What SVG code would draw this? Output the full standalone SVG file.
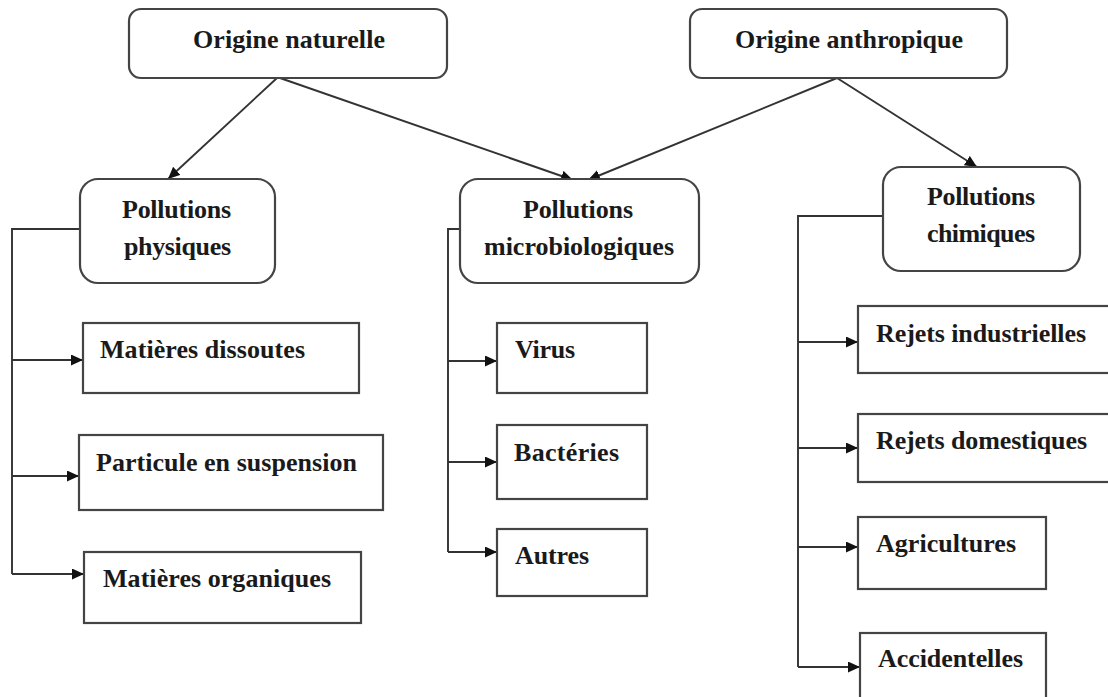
<svg xmlns="http://www.w3.org/2000/svg" width="1108" height="697" viewBox="0 0 1108 697">
<style>
.t{font-family:"Liberation Serif","Times New Roman",serif;font-weight:bold;font-size:26px;fill:#1a1a1a}
.box{fill:#fff;stroke:#444;stroke-width:2.2}
.ln{fill:none;stroke:#333;stroke-width:1.9}
</style>
<defs>
<marker id="ah" markerUnits="userSpaceOnUse" markerWidth="13" markerHeight="12" refX="12" refY="5.5" orient="auto">
<path d="M0,0 L12,5.5 L0,11 z" fill="#111"/>
</marker>
</defs>
<rect width="1108" height="697" fill="#fff"/>
<g id="connectors">
<line class="ln" x1="277" y1="78" x2="168" y2="179" marker-end="url(#ah)"/>
<line class="ln" x1="280" y1="78" x2="573" y2="180" marker-end="url(#ah)"/>
<line class="ln" x1="837" y1="78" x2="588" y2="180" marker-end="url(#ah)"/>
<line class="ln" x1="837" y1="78" x2="977" y2="167" marker-end="url(#ah)"/>
<path class="ln" d="M80,229 H12 V574"/>
<line class="ln" x1="12" y1="360" x2="83" y2="360" marker-end="url(#ah)"/>
<line class="ln" x1="12" y1="476" x2="79" y2="476" marker-end="url(#ah)"/>
<line class="ln" x1="12" y1="574" x2="84" y2="574" marker-end="url(#ah)"/>
<path class="ln" d="M462,229 H448 V552"/>
<line class="ln" x1="448" y1="361" x2="497" y2="361" marker-end="url(#ah)"/>
<line class="ln" x1="448" y1="462" x2="497" y2="462" marker-end="url(#ah)"/>
<line class="ln" x1="448" y1="552" x2="497" y2="552" marker-end="url(#ah)"/>
<path class="ln" d="M883,216 H798 V667"/>
<line class="ln" x1="798" y1="342" x2="858" y2="342" marker-end="url(#ah)"/>
<line class="ln" x1="798" y1="448" x2="858" y2="448" marker-end="url(#ah)"/>
<line class="ln" x1="798" y1="547" x2="858" y2="547" marker-end="url(#ah)"/>
<line class="ln" x1="798" y1="667" x2="860" y2="667" marker-end="url(#ah)"/>
</g>
<g id="origine-naturelle">
<rect class="box" x="129" y="9" width="318" height="69" rx="12"/>
<text class="t" x="193" y="48" textLength="192">Origine naturelle</text>
</g>
<g id="origine-anthropique">
<rect class="box" x="690" y="9" width="317" height="69" rx="12"/>
<text class="t" x="735" y="48" textLength="228">Origine anthropique</text>
</g>
<g id="pollutions-physiques">
<rect class="box" x="80" y="179" width="195" height="104" rx="18"/>
<text class="t" x="122" y="218" textLength="109">Pollutions</text>
<text class="t" x="124" y="255" textLength="107">physiques</text>
</g>
<g id="pollutions-microbiologiques">
<rect class="box" x="460" y="179" width="239" height="104" rx="18"/>
<text class="t" x="523" y="218" textLength="110">Pollutions</text>
<text class="t" x="484" y="255" textLength="190">microbiologiques</text>
</g>
<g id="pollutions-chimiques">
<rect class="box" x="883" y="167" width="197" height="104" rx="18"/>
<text class="t" x="927" y="205" textLength="108">Pollutions</text>
<text class="t" x="927" y="242" textLength="108">chimiques</text>
</g>
<g id="matieres-dissoutes">
<rect class="box" x="83" y="323" width="276" height="70"/>
<text class="t" x="100" y="358" textLength="205">Matières dissoutes</text>
</g>
<g id="particule-en-suspension">
<rect class="box" x="79" y="435" width="304" height="75"/>
<text class="t" x="96" y="471" textLength="261">Particule en suspension</text>
</g>
<g id="matieres-organiques">
<rect class="box" x="84" y="552" width="277" height="71"/>
<text class="t" x="103" y="587" textLength="228">Matières organiques</text>
</g>
<g id="virus">
<rect class="box" x="497" y="323" width="150" height="70"/>
<text class="t" x="515" y="358" textLength="60">Virus</text>
</g>
<g id="bacteries">
<rect class="box" x="497" y="425" width="150" height="74"/>
<text class="t" x="514" y="461" textLength="105">Bactéries</text>
</g>
<g id="autres">
<rect class="box" x="497" y="529" width="150" height="67"/>
<text class="t" x="515" y="564" textLength="74">Autres</text>
</g>
<g id="rejets-industrielles">
<rect class="box" x="858" y="306" width="270" height="67"/>
<text class="t" x="876" y="342" textLength="210">Rejets industrielles</text>
</g>
<g id="rejets-domestiques">
<rect class="box" x="858" y="414" width="270" height="68"/>
<text class="t" x="876" y="449" textLength="211">Rejets domestiques</text>
</g>
<g id="agricultures">
<rect class="box" x="858" y="517" width="188" height="72"/>
<text class="t" x="876" y="552" textLength="140">Agricultures</text>
</g>
<g id="accidentelles">
<rect class="box" x="860" y="633" width="186" height="80"/>
<text class="t" x="878" y="667" textLength="145">Accidentelles</text>
</g>
</svg>
